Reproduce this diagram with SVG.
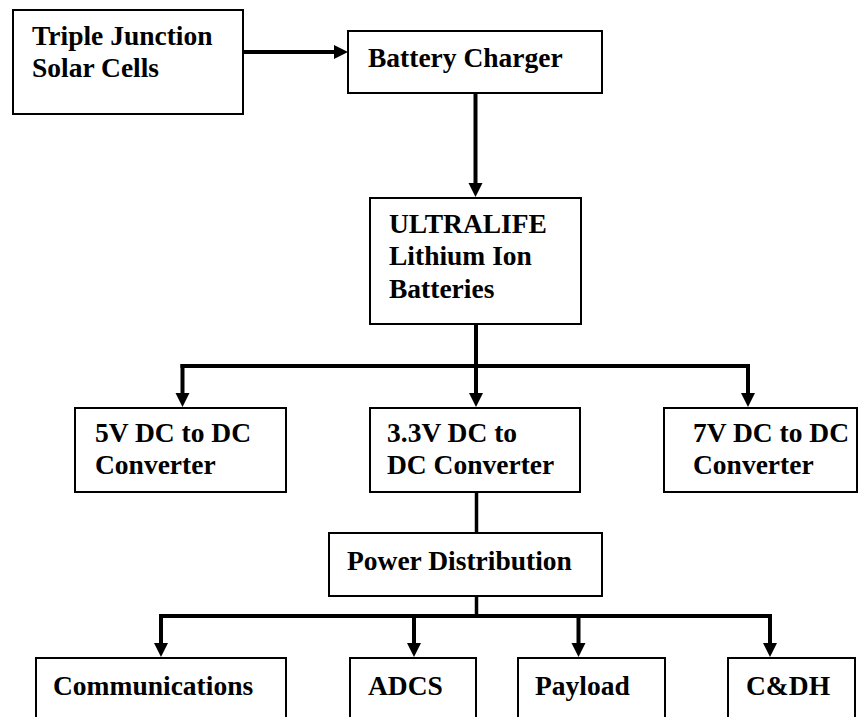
<svg xmlns="http://www.w3.org/2000/svg" width="864" height="717" viewBox="0 0 864 717">
<style>
.box{fill:#fff;stroke:#000;stroke-width:2}
.lbl{font-family:"Liberation Serif","Times New Roman",serif;font-weight:bold;font-size:27.5px;fill:#000}
.c{fill:none;stroke:#000;stroke-width:4}
.a{marker-end:url(#ah)}
</style>
<defs>
<marker id="ah" markerUnits="userSpaceOnUse" markerWidth="16" markerHeight="16" refX="1" refY="7" orient="auto" overflow="visible">
<path d="M0,0 L14,7 L0,14 Z" fill="#000"/>
</marker>
</defs>
<g id="connectors">
<path class="c a" d="M243,52 H335"/>
<path class="c a" d="M475.5,93 V184"/>
<path class="c" d="M476,324 V366"/>
<path class="c" d="M182.5,366 H748" stroke-linecap="square"/>
<path class="c a" d="M182.5,364 V394"/>
<path class="c a" d="M476,366 V394"/>
<path class="c a" d="M748,364 V394"/>
<path class="c" d="M476.5,492 V533" style="stroke-width:3.5"/>
<path class="c" d="M476.5,596 V616" style="stroke-width:3.5"/>
<path class="c" d="M161,616 H770" stroke-linecap="square"/>
<path class="c a" d="M161,614 V644"/>
<path class="c a" d="M414,616 V644"/>
<path class="c a" d="M578.5,616 V644"/>
<path class="c a" d="M770,614 V644"/>
</g>
<g id="solar">
<rect class="box" x="13" y="10" width="230" height="104"/>
<text class="lbl" x="32" y="45">Triple Junction</text>
<text class="lbl" x="32" y="77">Solar Cells</text>
</g>
<g id="charger">
<rect class="box" x="348" y="31" width="254" height="62"/>
<text class="lbl" x="368" y="67">Battery Charger</text>
</g>
<g id="batteries">
<rect class="box" x="370" y="198" width="211" height="126"/>
<text class="lbl" x="389" y="233">ULTRALIFE</text>
<text class="lbl" x="389" y="265">Lithium Ion</text>
<text class="lbl" x="389" y="298">Batteries</text>
</g>
<g id="conv5">
<rect class="box" x="75" y="408" width="211" height="84"/>
<text class="lbl" x="95" y="442">5V DC to DC</text>
<text class="lbl" x="95" y="474">Converter</text>
</g>
<g id="conv33">
<rect class="box" x="370" y="408" width="210" height="84"/>
<text class="lbl" x="387" y="442">3.3V DC to</text>
<text class="lbl" x="387" y="474">DC Converter</text>
</g>
<g id="conv7">
<rect class="box" x="664" y="408" width="193" height="84"/>
<text class="lbl" x="693" y="442">7V DC to DC</text>
<text class="lbl" x="693" y="474">Converter</text>
</g>
<g id="power">
<rect class="box" x="329" y="533" width="273" height="63"/>
<text class="lbl" x="347" y="570">Power Distribution</text>
</g>
<g id="comms">
<rect class="box" x="36" y="658" width="250" height="70"/>
<text class="lbl" x="53" y="695">Communications</text>
</g>
<g id="adcs">
<rect class="box" x="350" y="658" width="126" height="70"/>
<text class="lbl" x="368" y="695">ADCS</text>
</g>
<g id="payload">
<rect class="box" x="518" y="658" width="147" height="70"/>
<text class="lbl" x="535" y="695">Payload</text>
</g>
<g id="cdh">
<rect class="box" x="728" y="658" width="127" height="70"/>
<text class="lbl" x="746" y="695">C&amp;DH</text>
</g>
</svg>
